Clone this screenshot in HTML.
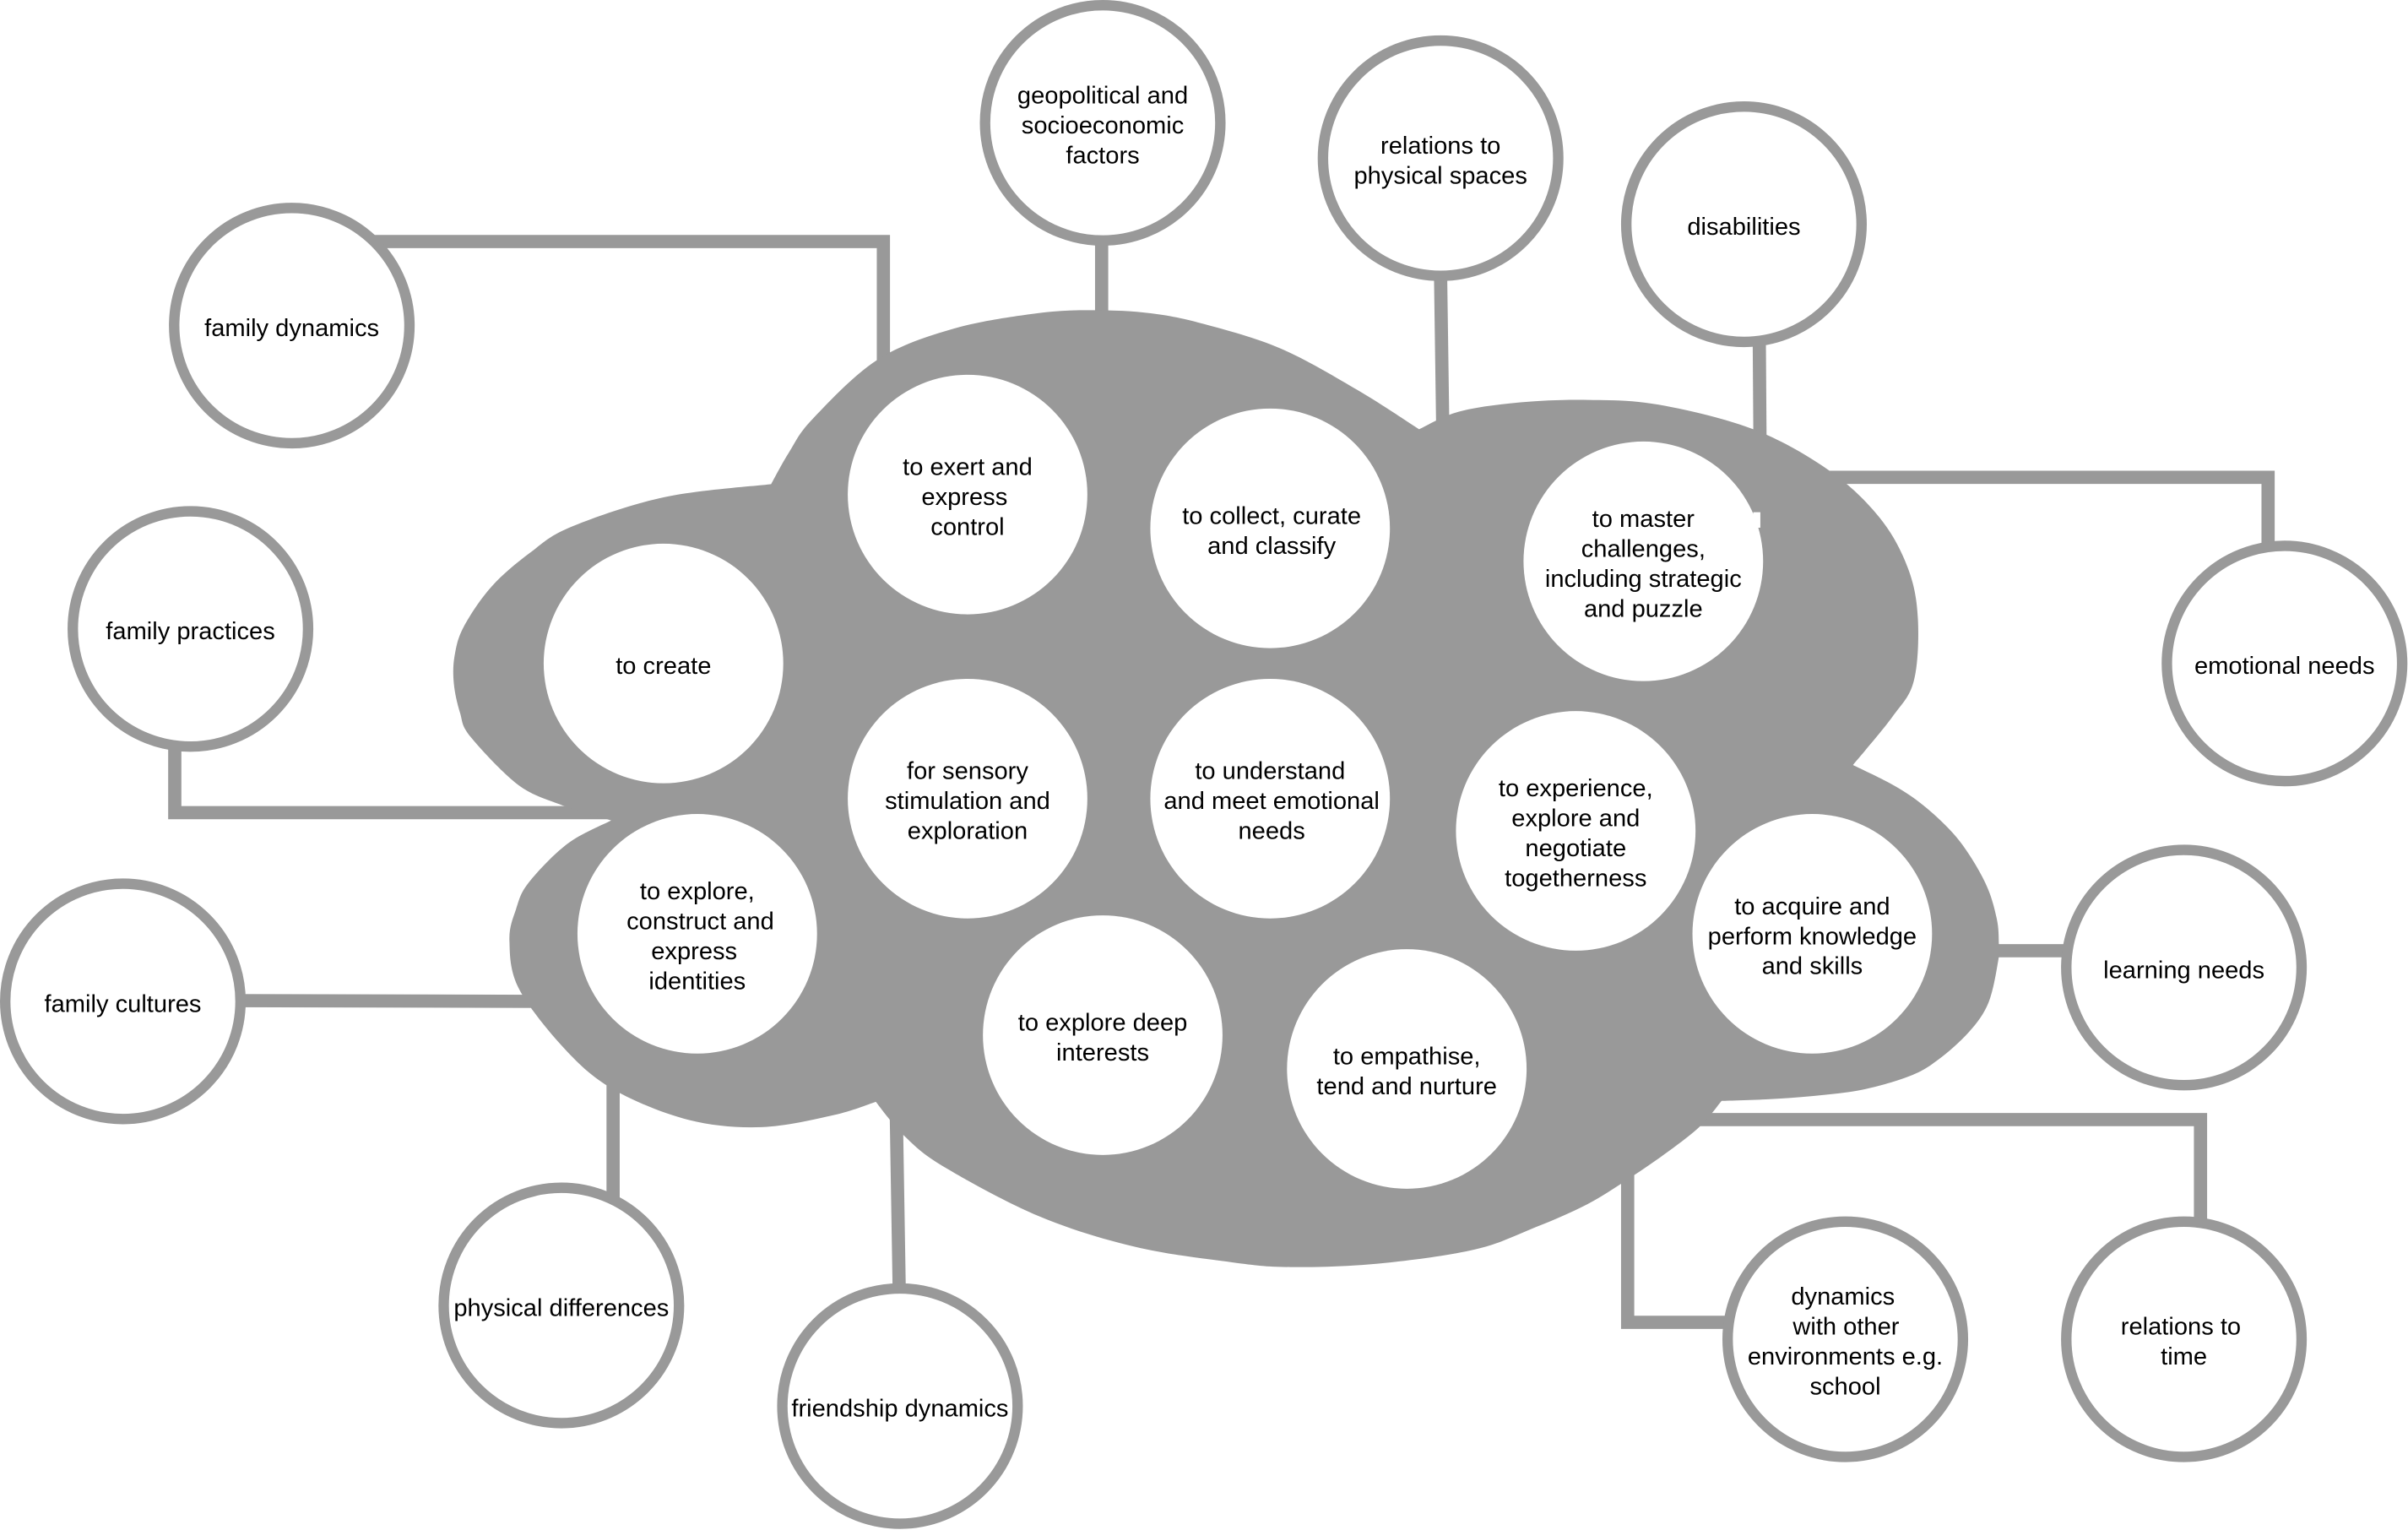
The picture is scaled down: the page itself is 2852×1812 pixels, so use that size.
<!DOCTYPE html>
<html>
<head>
<meta charset="utf-8">
<style>
  html, body { margin: 0; padding: 0; background: #ffffff; }
  svg { display: block; }
  text { font-family: "Liberation Sans", Arial, sans-serif; font-size: 16px; fill: #000; text-anchor: middle; }
</style>
</head>
<body>
<svg id="dg" width="2852" height="1812" viewBox="0 0 1567.9 996.2" preserveAspectRatio="none" xmlns="http://www.w3.org/2000/svg">
  <rect x="0" y="0" width="1567.9" height="996.2" fill="#ffffff"/>

  <!-- connectors -->
  <g stroke="#999999" stroke-width="8.6" fill="none" stroke-linejoin="miter" stroke-linecap="butt">
    <polyline points="230,157.3 575.2,157.3 575.2,250"/>
    <line x1="717.3" y1="150" x2="717.3" y2="215"/>
    <line x1="938" y1="180" x2="939.5" y2="285"/>
    <line x1="1145.5" y1="220" x2="1146" y2="292"/>
    <polyline points="1185,310.8 1476.8,310.8 1476.8,360"/>
    <polyline points="113.8,480 113.8,529.1 398,529.1"/>
    <line x1="150" y1="651.5" x2="350" y2="652"/>
    <line x1="399.2" y1="700" x2="399.2" y2="780"/>
    <line x1="583.6" y1="725" x2="585.5" y2="840"/>
    <polyline points="1059.8,760 1059.8,861 1130,861"/>
    <polyline points="1100,729 1432.8,729 1432.8,800"/>
    <line x1="1295" y1="619" x2="1350" y2="619"/>
  </g>

  <!-- cloud -->
  <polygon id="cloud" fill="#999999" points="
    502.1,315.2 513.7,294.6 529.2,272.7 571.4,234.2 620.9,214 675.9,203.9 712.5,202 749.2,204 784,211 834,227 884,254 924,279.5
    950,268 990,262 1034,260.4 1080,263.5 1141.6,279.5 1191.1,306.4 1224,337.2 1242.4,370.2 1248.8,403.2 1246.1,443.5 1232,467 1206.5,498.1
    1233.8,511.8 1254.9,526.5 1275.9,547.6 1292.7,574.9 1300.1,598 1301.5,614.9 1301.1,625.4 1294.8,652.7 1282,672 1262,690 1243.8,700.5 1212.8,709.5 1180.7,713.6 1149.7,715.8 1121,716.8
    1107.1,733.2 1086.6,749.5 1060.8,767.3 1033.5,784.1 1000,799 960,813.6 896.9,822.8 840.1,825 802.2,821.9 739.1,811.8 676,791.7 612.9,758.7 587.6,738.5 578.1,727.5 570.3,717.4
    543.1,726 495.8,733.9 448.5,729.2 401.1,710.3 369.6,685 338,644 331.7,612.5 336,592 344.3,574.6 369.6,549.3 398,534.2
    366.4,524.5 338,511.5 306.5,479.9 299.5,464 295.5,445 296,427 302,408 320,382 345,360 372,343 432.7,323.7"/>

  <!-- inner white circles -->
  <g fill="#ffffff">
    <circle cx="432" cy="432" r="78"/>
    <circle cx="630" cy="322" r="78"/>
    <circle cx="827" cy="344" r="78"/>
    <circle cx="1070" cy="365.5" r="78"/>
    <circle cx="630" cy="520" r="78"/>
    <circle cx="827" cy="520" r="78"/>
    <circle cx="1026" cy="541" r="78"/>
    <circle cx="1180" cy="608" r="78"/>
    <circle cx="454" cy="608" r="78"/>
    <circle cx="718" cy="674" r="78"/>
    <circle cx="916" cy="696" r="78"/>
    <rect x="1141.6" y="333.5" width="4.6" height="10.1"/>
  </g>

  <!-- outer ring circles -->
  <g fill="#ffffff" stroke="#999999" stroke-width="6.8">
    <circle cx="190" cy="212" r="76.6"/>
    <circle cx="718" cy="80" r="76.6"/>
    <circle cx="938" cy="103" r="76.6"/>
    <circle cx="1135.5" cy="146" r="76.6"/>
    <circle cx="1487.5" cy="432" r="76.6"/>
    <circle cx="124" cy="409.5" r="76.6"/>
    <circle cx="80" cy="652" r="76.6"/>
    <circle cx="365.5" cy="850" r="76.6"/>
    <circle cx="586" cy="915.5" r="76.6"/>
    <circle cx="1201.5" cy="872" r="76.6"/>
    <circle cx="1422" cy="872" r="76.6"/>
    <circle cx="1422" cy="630" r="76.6"/>
  </g>

  <!-- outer labels -->
  <text x="190" y="218.8">family dynamics</text>
  <text x="718" y="67.3">geopolitical and</text>
  <text x="718" y="86.8">socioeconomic</text>
  <text x="718" y="106.3">factors</text>
  <text x="938" y="100.05">relations to</text>
  <text x="938" y="119.55">physical spaces</text>
  <text x="1135.5" y="152.8">disabilities</text>
  <text x="1487.5" y="438.8">emotional needs</text>
  <text x="124" y="416.3">family practices</text>
  <text x="80" y="658.8">family cultures</text>
  <text x="365.5" y="856.8">physical differences</text>
  <text x="586" y="922.3">friendship dynamics</text>
  <text x="1200" y="849.55">dynamics</text>
  <text x="1202" y="869.05">with other</text>
  <text x="1201.5" y="888.55">environments e.g.</text>
  <text x="1201.5" y="908.05">school</text>
  <text x="1420" y="869.05">relations to</text>
  <text x="1422" y="888.55">time</text>
  <text x="1422" y="636.8">learning needs</text>

  <!-- inner labels -->
  <text x="432" y="438.8">to create</text>
  <text x="630" y="309.3">to exert and</text>
  <text x="628" y="328.8">express</text>
  <text x="630" y="348.3">control</text>
  <text x="828" y="341.05">to collect, curate</text>
  <text x="828" y="360.55">and classify</text>
  <text x="1070" y="343.05">to master</text>
  <text x="1070" y="362.55">challenges,</text>
  <text x="1070" y="382.05">including strategic</text>
  <text x="1070" y="401.55">and puzzle</text>
  <text x="630" y="507.3">for sensory</text>
  <text x="630" y="526.8">stimulation and</text>
  <text x="630" y="546.3">exploration</text>
  <text x="827" y="507.3">to understand</text>
  <text x="828" y="526.8">and meet emotional</text>
  <text x="828" y="546.3">needs</text>
  <text x="1026" y="518.55">to experience,</text>
  <text x="1026" y="538.05">explore and</text>
  <text x="1026" y="557.55">negotiate</text>
  <text x="1026" y="577.05">togetherness</text>
  <text x="1180" y="595.3">to acquire and</text>
  <text x="1180" y="614.8">perform knowledge</text>
  <text x="1180" y="634.3">and skills</text>
  <text x="454" y="585.55">to explore,</text>
  <text x="456" y="605.05">construct and</text>
  <text x="452" y="624.55">express</text>
  <text x="454" y="644.05">identities</text>
  <text x="718" y="671.05">to explore deep</text>
  <text x="718" y="690.55">interests</text>
  <text x="916" y="693.05">to empathise,</text>
  <text x="916" y="712.55">tend and nurture</text>
</svg>
<script>
(function(){
  try {
    var poly = document.getElementById('cloud');
    if (!poly) return;
    var raw = poly.getAttribute('points').trim().split(/\s+/).map(function(s){
      var p = s.split(','); return [parseFloat(p[0]), parseFloat(p[1])];
    });
    var corners = [[502.1,315.2],[924,279.5],[1206.5,498.1],[1121,716.8],[570.3,717.4],[398,534.2],[366.4,524.5]];
    function isCorner(p){
      for (var i=0;i<corners.length;i++){ if (Math.abs(corners[i][0]-p[0])<0.01 && Math.abs(corners[i][1]-p[1])<0.01) return true; }
      return false;
    }
    var pts = raw.concat([raw[0]]);
    var lobes = [], cur = [pts[0]];
    for (var i=1;i<pts.length;i++){
      cur.push(pts[i]);
      if (isCorner(pts[i])) { lobes.push(cur); cur = [pts[i]]; }
    }
    if (cur.length > 1) lobes.push(cur);
    var d = 'M' + pts[0][0] + ',' + pts[0][1];
    lobes.forEach(function(L){
      var n = L.length;
      for (var k=0;k<n-1;k++){
        var p1 = L[k], p2 = L[k+1];
        var p0 = L[k-1] ? L[k-1] : p1;
        var p3 = L[k+2] ? L[k+2] : p2;
        var c1x = p1[0] + (p2[0]-p0[0])/6, c1y = p1[1] + (p2[1]-p0[1])/6;
        var c2x = p2[0] - (p3[0]-p1[0])/6, c2y = p2[1] - (p3[1]-p1[1])/6;
        d += ' C' + c1x.toFixed(2) + ',' + c1y.toFixed(2) + ' ' + c2x.toFixed(2) + ',' + c2y.toFixed(2) + ' ' + p2[0] + ',' + p2[1];
      }
    });
    d += ' Z';
    var path = document.createElementNS('http://www.w3.org/2000/svg','path');
    path.setAttribute('d', d);
    path.setAttribute('fill', '#999999');
    poly.parentNode.replaceChild(path, poly);
  } catch(e) {}
})();
</script>
</body>
</html>
